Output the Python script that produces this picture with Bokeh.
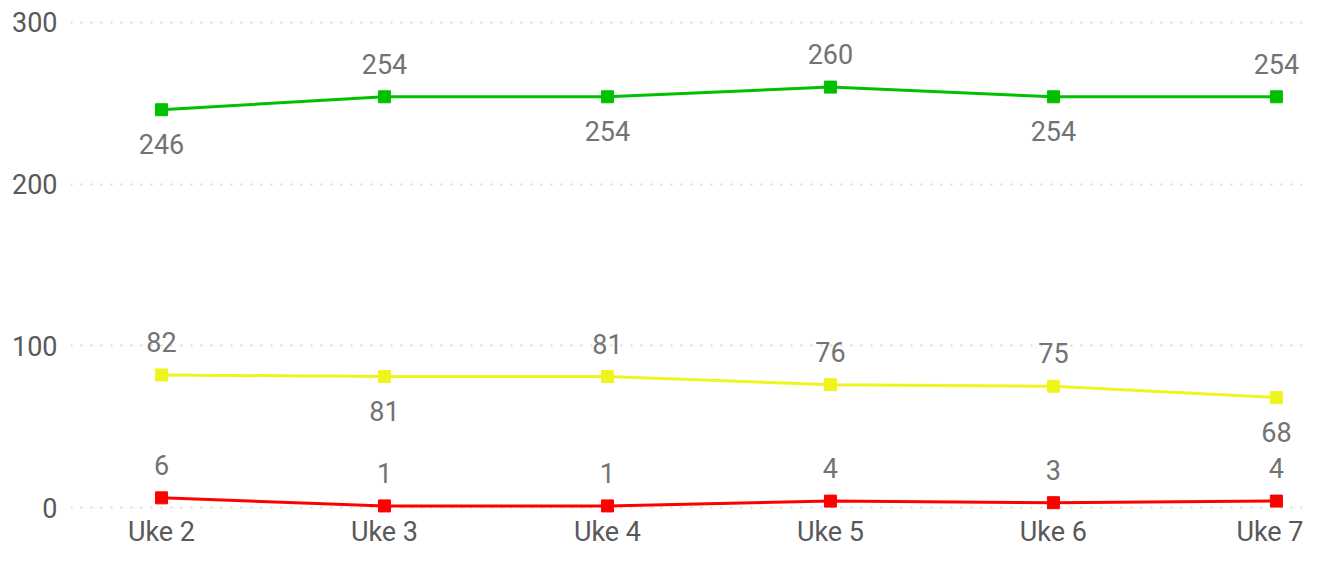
from bokeh.plotting import figure
from bokeh.models import Range1d, FixedTicker, ColumnDataSource
from bokeh.core.properties import value
from bokeh.embed import file_html
from bokeh.resources import INLINE

weeks = ["Uke 2", "Uke 3", "Uke 4", "Uke 5", "Uke 6", "Uke 7"]
green = [246, 254, 254, 260, 254, 254]
yellow = [82, 81, 81, 76, 75, 68]
red = [6, 1, 1, 4, 3, 4]
y_ticks = [0, 100, 200, 300]

# label placement: 1 = above the point, -1 = below
green_side = [-1, 1, -1, 1, -1, 1]
yellow_side = [1, -1, 1, 1, 1, -1]
red_side = [1, 1, 1, 1, 1, 1]

FONT = "Roboto"
x = list(range(len(weeks)))

p = figure(width=1303, height=550, output_backend="svg", toolbar_location=None,
           x_range=Range1d(-0.408, 5.117), y_range=Range1d(-6.15, 311.07),
           min_border_left=70, min_border_right=1, min_border_top=4,
           min_border_bottom=30)
p.outline_line_color = None
p.background_fill_color = "white"
p.border_fill_color = "white"

# axes
p.xaxis.ticker = FixedTicker(ticks=x)
p.xaxis.major_label_overrides = {i: w for i, w in enumerate(weeks)}
p.yaxis.ticker = FixedTicker(ticks=y_ticks)
for ax in (p.xaxis, p.yaxis):
    ax.axis_line_color = None
    ax.major_tick_line_color = None
    ax.minor_tick_line_color = None
    ax.major_tick_out = 0
    ax.major_tick_in = 0
    ax.major_label_text_font = FONT
    ax.major_label_text_font_size = "27px"
    ax.major_label_text_color = "#595959"
p.xaxis.major_label_standoff = -2
p.yaxis.major_label_standoff = 13

p.xgrid.grid_line_color = None
p.ygrid.grid_line_color = "#d9d9d9"
p.ygrid.grid_line_width = 2
p.ygrid.grid_line_dash = "2 8"

series = [
    (green, green_side, "#00C000"),
    (yellow, yellow_side, "#EEF51D"),
    (red, red_side, "#FF0000"),
]

for vals, sides, col in series:
    src = ColumnDataSource(dict(x=x, y=vals, t=[str(v) for v in vals],
                                off=[-33 if s > 0 else 34 for s in sides]))
    p.line("x", "y", source=src, line_color=col, line_width=3)
    p.scatter("x", "y", source=src, marker="square", size=12,
              fill_color=col, line_color=col)
    p.text("x", "y", text="t", source=src, y_offset="off",
           text_align="center", text_baseline="middle",
           text_font=value(FONT), text_font_size="27px", text_color="#737373")

open("out.html", "w").write(file_html(p, INLINE))
